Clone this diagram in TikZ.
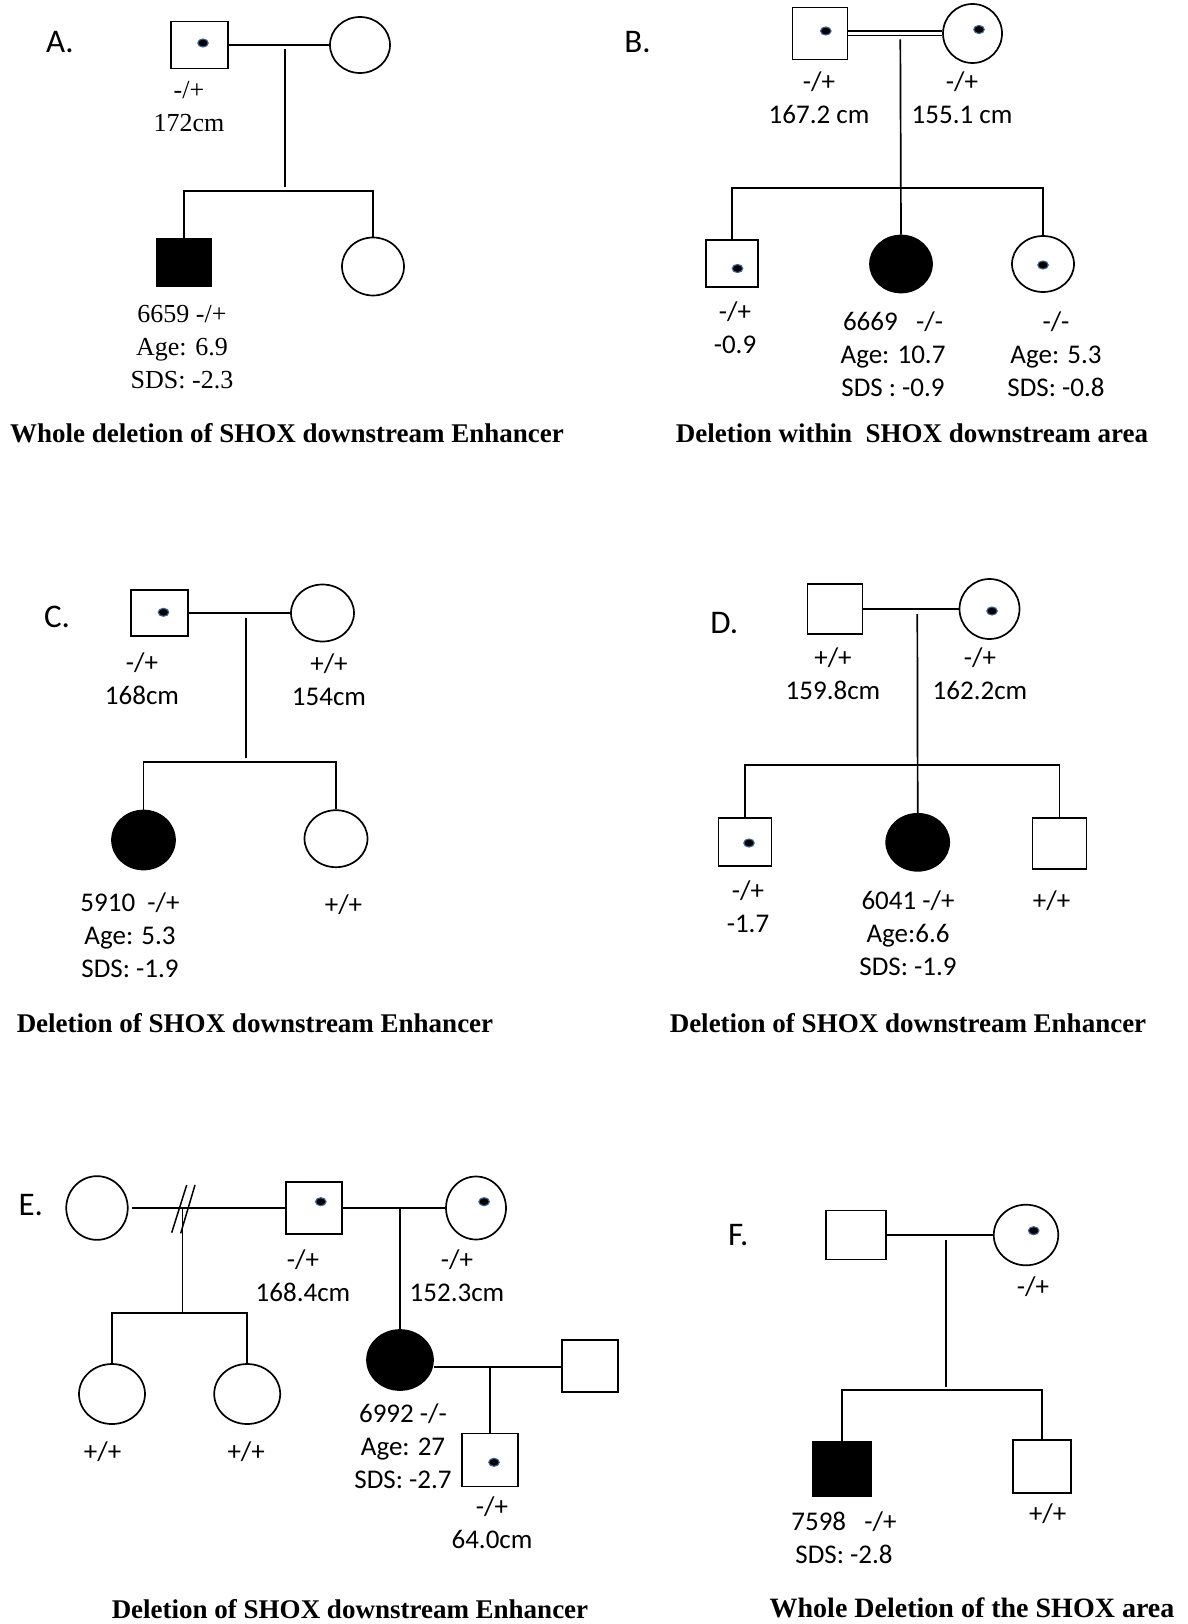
\documentclass[tikz,border=0pt]{standalone}
\usepackage{fontspec}
\setmainfont{Carlito}
\newfontfamily\timesfont{Liberation Serif}
\usetikzlibrary{shapes.geometric}
\definecolor{dotrim}{RGB}{60,100,150}

\begin{document}
\begin{tikzpicture}[x=1pt, y=-1pt, line width=1.7pt]

      \tikzset{male/.style={draw, rectangle, inner sep=0pt, minimum width=55pt, minimum height=50pt},
               female/.style={draw, ellipse, inner sep=0pt, minimum width=62pt, minimum height=58pt},
               affected/.style={fill=black},
               carrier/.style={draw=dotrim, line width=1.1pt, fill=black, ellipse, inner sep=0pt, minimum width=10.5pt, minimum height=8pt},
               info/.style={font=\fontsize{27}{33}\selectfont, align=center, inner sep=0pt},
               tinfo/.style={font=\timesfont\fontsize{26}{33}\selectfont, align=center, inner sep=0pt},
               heading/.style={font=\timesfont\bfseries\fontsize{27}{32}\selectfont, inner sep=0pt},
               panel/.style={font=\fontsize{33}{33}\selectfont, inner sep=0pt}}

      \path[use as bounding box, fill=white] (0,0) rectangle (1187,1624);

%% Panel A
      	\node[panel] (lA) at (60,42) {A.};
      	\node[male, minimum width=57pt, minimum height=47pt] (fA) at (199.5,45) {};
      	\node[carrier] (cfA) at (203,43) {};
      	\node[female, minimum width=60pt, minimum height=56pt] (mA) at (360,45) {};
      	\node[male, affected, minimum width=54pt, minimum height=47pt] (kA1) at (184,262.5) {};
      	\node[female] (kA2) at (373,266.5) {};
      	\coordinate (jA) at (285,49);
      	\coordinate (eA) at (285,187);
      	\coordinate (sA) at (285,190.7);
%Lines
		\path (fA) edge (mA);
		\draw (jA) -- (eA);
		\draw (kA1.north) |- (sA) -| (kA2.north);
%Text
      	\node[tinfo] (tfA) at (189,107) {-/+\\172cm};
      	\node[tinfo] (tkA1) at (182,347.5) {6659 -/+\\Age: 6.9\\SDS: -2.3};
      	\node[heading] (capA) at (287,433) {Whole deletion of SHOX downstream Enhancer};

%% Panel B
      	\node[panel] (lB) at (637.6,41.7) {B.};
      	\node[male, minimum height=52pt] (fB) at (820,33.5) {};
      	\node[carrier] (cfB) at (825.8,31) {};
      	\node[female, minimum width=59pt, minimum height=59pt] (mB) at (972.5,33.5) {};
      	\node[carrier] (cmB) at (979,29.5) {};
      	\node[male, minimum width=52pt, minimum height=47pt] (kB1) at (732,263.7) {};
      	\node[carrier] (ckB1) at (737.5,268.5) {};
      	\node[female, affected, minimum height=57pt] (kB2) at (901,264) {};
      	\node[female, minimum height=56pt] (kB3) at (1043,264) {};
      	\node[carrier] (ckB3) at (1043,265) {};
      	\coordinate (jB) at (900.3,39.3);
      	\coordinate (sB) at (900.3,187.7);
%Lines
		\draw[double, double distance=3pt, line width=1.5pt] (fB) -- (mB);
		\draw (jB) -- (kB2.north);
		\draw (kB1.north) |- (sB) -| (kB3.north);
%Text
      	\node[info] (tfB) at (819,97.5) {-/+\\167.2 cm};
      	\node[info] (tmB) at (962,97.5) {-/+\\155.1 cm};
      	\node[info] (tkB1) at (735,327.5) {-/+\\-0.9};
      	\node[info] (tkB2) at (893,354.3) {6669\ \ \ -/-\\Age: 10.7\\SDS : -0.9};
      	\node[info] (tkB3) at (1056,354.3) {-/-\\Age: 5.3\\SDS: -0.8};
      	\node[heading] (capB) at (912,433.3) {Deletion within\ \ SHOX downstream area};

%% Panel C
      	\node[panel] (lC) at (57,616.7) {C.};
      	\node[male, minimum width=57pt, minimum height=46pt] (fC) at (159.5,613) {};
      	\node[carrier] (cfC) at (163.5,612.3) {};
      	\node[female, minimum width=63pt, minimum height=57pt] (mC) at (322.5,613) {};
      	\node[female, affected, minimum width=63pt, minimum height=59pt] (kC1) at (143.5,840) {};
      	\node[female, minimum width=63pt, minimum height=57pt] (kC2) at (336,838.7) {};
      	\coordinate (jC) at (246,617.7);
      	\coordinate (eC) at (246,758.3);
      	\coordinate (sC) at (246,761.7);
%Lines
		\path (fC) edge (mC);
		\draw (jC) -- (eC);
		\draw (kC1.north) |- (sC) -| (kC2.north);
%Text
      	\node[info] (tfC) at (142,678.3) {-/+\\168cm};
      	\node[info] (tmC) at (329,680) {+/+\\154cm};
      	\node[info] (tkC1) at (130,935) {5910\ \ -/+\\Age: 5.3\\SDS: -1.9};
      	\node[info] (tkC2) at (343.5,905) {+/+};
      	\node[heading] (capC) at (255,1023.3) {Deletion of SHOX downstream Enhancer};

%% Panel D
      	\node[panel] (lD) at (724.2,623.3) {D.};
      	\node[male] (fD) at (835,609) {};
      	\node[female, minimum width=60pt, minimum height=60pt] (mD) at (989.5,609) {};
      	\node[carrier] (cmD) at (992,611) {};
      	\node[male, minimum width=53pt, minimum height=48pt] (kD1) at (745,842) {};
      	\node[carrier] (ckD1) at (749,843) {};
      	\node[female, affected, minimum width=63pt, minimum height=57pt] (kD2) at (917.7,842.3) {};
      	\node[male, minimum width=54pt, minimum height=51pt] (kD3) at (1059.5,843.8) {};
      	\coordinate (jD) at (917.3,614);
      	\coordinate (sD) at (917.3,765);
%Lines
		\path (fD) edge (mD);
		\draw (jD) -- (kD2.north);
		\draw (kD1.north) |- (sD) -| (kD3.north);
%Text
      	\node[info] (tfD) at (833,673.3) {+/+\\159.8cm};
      	\node[info] (tmD) at (980,673.3) {-/+\\162.2cm};
      	\node[info] (tkD1) at (748,906.3) {-/+\\-1.7};
      	\node[info] (tkD2) at (908,933.3) {6041 -/+\\Age:6.6\\SDS: -1.9};
      	\node[info] (tkD3) at (1051.6,900.7) {+/+};
      	\node[heading] (capD) at (908,1023.3) {Deletion of SHOX downstream Enhancer};

%% Panel E
      	\node[panel] (lE) at (30.8,1205) {E.};
      	\node[female, minimum width=61.5pt, minimum height=63.7pt] (xE) at (97,1208) {};
      	\node[male, minimum width=56pt, minimum height=52pt] (fE) at (313.8,1208) {};
      	\node[carrier] (cfE) at (320.8,1201.7) {};
      	\node[female, minimum width=60pt, minimum height=63pt] (mE) at (476,1208) {};
      	\node[carrier] (cmE) at (484.1,1201.7) {};
      	\node[female, minimum width=66pt, minimum height=60pt] (kE1) at (112,1394) {};
      	\node[female, minimum width=66pt, minimum height=60pt] (kE2) at (247.2,1394) {};
      	\node[female, affected, minimum width=66pt, minimum height=60pt] (dE) at (400,1360) {};
      	\node[male, minimum width=56pt, minimum height=52pt] (hE) at (590,1366) {};
      	\node[male, minimum width=56pt, minimum height=53pt] (gE) at (490,1460) {};
      	\node[carrier] (cgE) at (494,1462.3) {};
      	\coordinate (jE1) at (182.4,1208);
      	\coordinate (sE1) at (182.4,1312.7);
      	\coordinate (jE2) at (400,1208);
      	\coordinate (mlE) at (490,1367.3);
%Lines
		\path (xE) edge[shorten <=3pt] (fE);
		\draw[line width=1.5pt] (171.7,1232.7) -- (186.7,1185);
		\draw[line width=1.5pt] (180.7,1233.3) -- (195,1185);
		\draw (jE1) -- (sE1);
		\draw (kE1.north) |- (sE1) -| (kE2.north);
		\path (fE) edge (mE);
		\draw (jE2) -- (dE.north);
		\draw (dE.east |- mlE) -- (hE.west |- mlE);
		\draw (mlE) -- (gE.north);
%Text
      	\node[info] (tfE) at (303,1275.3) {-/+\\168.4cm};
      	\node[info] (tmE) at (457,1275.3) {-/+\\152.3cm};
      	\node[info] (tkE1) at (102.6,1451.7) {+/+};
      	\node[info] (tkE2) at (246.2,1451.7) {+/+};
      	\node[info] (tdE) at (403,1446) {6992 -/-\\Age: 27\\SDS: -2.7};
      	\node[info] (tgE) at (492,1522.7) {-/+\\64.0cm};
      	\node[heading] (capE) at (350,1609) {Deletion of SHOX downstream Enhancer};

%% Panel F
      	\node[panel] (lF) at (738.2,1235) {F.};
      	\node[male, minimum width=60pt, minimum height=49pt] (fF) at (855.8,1235) {};
      	\node[female, minimum width=64.5pt, minimum height=60.6pt] (mF) at (1026,1235) {};
      	\node[carrier] (cmF) at (1033.7,1230.7) {};
      	\node[male, affected, minimum width=58pt, minimum height=54pt] (kF1) at (842,1468.7) {};
      	\node[male, minimum width=58pt, minimum height=53pt] (kF2) at (1042,1466.7) {};
      	\coordinate (jF) at (946.3,1240);
      	\coordinate (eF) at (946.3,1386.7);
      	\coordinate (sF) at (946.3,1390);
%Lines
		\path (fF) edge (mF);
		\draw (jF) -- (eF);
		\draw (kF1.north) |- (sF) -| (kF2.north);
%Text
      	\node[info] (tmF) at (1033,1286.7) {-/+};
      	\node[info] (tkF1) at (844,1537.5) {7598\ \ \ -/+\\SDS: -2.8};
      	\node[info] (tkF2) at (1047.7,1513.3) {+/+};
      	\node[heading, font=\timesfont\bfseries\fontsize{28}{32}\selectfont] (capF) at (972,1608) {Whole Deletion of the SHOX area};

\end{tikzpicture}
\end{document}
